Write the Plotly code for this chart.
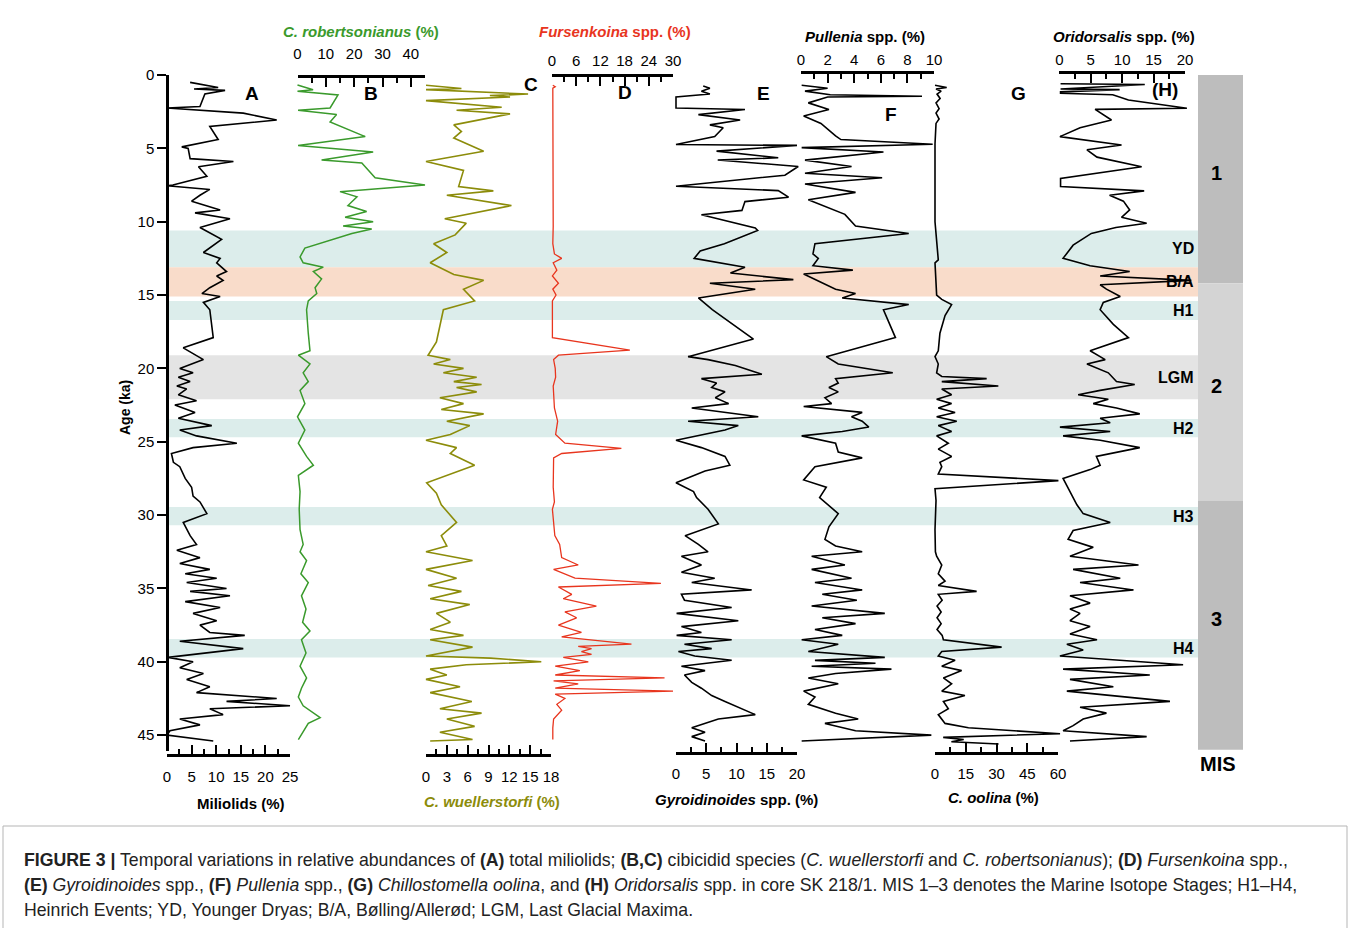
import plotly.graph_objects as go

# ---------------- data: (age in ka, relative abundance in %) ----------------
miliolids = [
    (0.5, 4.7), (0.85, 10.4), (0.95, 5.5), (1.05, 11.8), (1.3, 7.7), (2.15, 6.7), (2.25, 0),
    (2.6, 15.5), (3.07, 22.3), (3.5, 8.7), (4.4, 10.4), (4.9, 3.0), (5.0, 4.3), (5.7, 4.7),
    (5.9, 13.5), (6.25, 6.4), (6.9, 8.1), (7.5, 1.2), (7.55, 0), (7.8, 8.7), (8.2, 6.7),
    (8.6, 5.0), (9.2, 10.8), (9.4, 5.7), (9.8, 12.8), (10.4, 6.7), (11.2, 11.1), (12.1, 7.4),
    (12.5, 10.8), (12.8, 10.1), (13.4, 12.1), (13.7, 10.1), (14.0, 11.4), (14.5, 8.7),
    (14.9, 7.1), (15.1, 10.8), (15.5, 7.4), (16.0, 8.7), (17.9, 9.4), (18.6, 3.3), (19.4, 7.4),
    (20.0, 2.6), (20.3, 5.3), (20.6, 2.3), (20.9, 4.7), (21.2, 2.0), (21.4, 4.0), (21.8, 2.3),
    (22.2, 6.0), (22.5, 1.6), (23.0, 5.7), (23.4, 2.3), (23.9, 9.1), (24.2, 2.6), (24.6, 6.0),
    (25.1, 14.2), (25.4, 5.3), (25.8, 0.9), (26.4, 1.3), (26.7, 2.6), (27.5, 3.7), (28.1, 5.0),
    (28.7, 5.3), (29.1, 6.7), (29.9, 8.1), (30.5, 3.3), (31.4, 4.7), (32.0, 6.0), (32.4, 2.0),
    (32.9, 6.7), (33.3, 2.6), (33.7, 8.7), (34.0, 3.7), (34.3, 10.1), (34.6, 4.0), (35.0, 12.1),
    (35.2, 4.7), (35.5, 12.8), (35.9, 3.7), (36.3, 10.8), (36.7, 5.3), (37.2, 10.1), (37.5, 6.7),
    (38.0, 8.7), (38.2, 15.8), (38.6, 2.6), (39.1, 15.5), (39.4, 8.1), (39.7, 0.2), (40.0, 5.3),
    (40.4, 2.6), (40.8, 7.4), (41.2, 4.0), (41.7, 8.7), (42.1, 6.0), (42.5, 22.3), (42.7, 12.1),
    (43.0, 25.0), (43.2, 8.7), (43.6, 11.4), (43.9, 2.6), (44.3, 6.7), (44.7, 0.6), (45.0, 0.0),
    (45.4, 9.4),
]

c_robertsonianus = [
    (0.68, 0), (1.0, 5.5), (1.1, 0), (1.36, 14.3), (2.25, 11.5), (2.4, 0.2), (2.7, 13.8),
    (3.2, 11.5), (4.2, 23.9), (4.8, 0.2), (5.25, 26.7), (5.8, 8.5), (6.0, 22.7), (7.0, 27.4),
    (7.5, 45), (7.95, 15), (8.3, 21), (8.9, 17.8), (9.3, 24.4), (9.7, 16.8), (10.0, 26.7),
    (10.3, 16.1), (10.5, 26.2), (10.8, 19.2), (11.8, 2.6), (12.4, 0.9), (12.8, 2.0), (13.1, 9.1),
    (13.4, 5.6), (13.9, 8.5), (14.5, 6.2), (14.9, 6.8), (15.4, 3.8), (16.0, 3.2), (17.6, 3.8),
    (18.8, 4.4), (19.1, 0.3), (19.7, 4.4), (20.3, 2.0), (20.9, 3.8), (21.5, 0.9), (22.4, 2.6),
    (23.3, 0), (24.2, 2.6), (25.1, 0.3), (26.0, 3.2), (26.6, 5.6), (27.3, 0.3), (28.4, 0.9),
    (29.6, 0.6), (31.0, 0.9), (32.0, 2.0), (32.5, 0.9), (33.1, 3.2), (34.0, 1.2), (34.6, 3.8),
    (35.5, 1.4), (36.4, 3.0), (37.3, 1.8), (37.9, 4.4), (38.5, 1.4), (39.4, 3.0), (40.3, 0.9),
    (41.1, 3.2), (41.8, 1.4), (42.4, 0.3), (43.0, 2.0), (43.8, 8.0), (44.2, 3.8), (44.8, 2.0),
    (45.3, 0.3),
]

c_wuellerstorfi = [
    (0.7, 0), (0.92, 5.1), (1.0, 0), (1.3, 14.7), (1.4, 9.2), (1.5, 12.1), (1.75, 0),
    (2.2, 10.9), (2.4, 4.4), (2.65, 12.1), (3.4, 4.0), (3.85, 5.1), (4.3, 4.0), (5.2, 8.3),
    (5.9, 0), (6.5, 5.4), (7.6, 4.7), (7.9, 9.7), (8.2, 3.0), (8.9, 12.3), (9.8, 2.7),
    (10.1, 5.8), (10.9, 4.2), (11.5, 1.1), (12.1, 3.0), (12.8, 0.6), (13.6, 4.0), (14.0, 8.3),
    (14.6, 5.4), (15.4, 7.0), (16.0, 2.5), (18.2, 1.5), (19.1, 0.3), (19.4, 3.5), (19.7, 1.1),
    (20.0, 5.4), (20.3, 2.5), (20.6, 7.3), (20.9, 4.0), (21.1, 8.0), (21.3, 4.4), (21.6, 7.3),
    (22.0, 2.0), (22.4, 5.4), (22.8, 2.2), (23.1, 8.3), (23.6, 3.0), (23.9, 6.3), (24.5, 3.5),
    (24.9, 0), (25.4, 4.4), (25.8, 3.5), (26.6, 7.0), (27.8, 0.1), (28.5, 1.5), (29.3, 2.2),
    (30.5, 4.4), (31.4, 2.2), (32.1, 3.0), (32.5, 0), (33.1, 6.7), (33.7, 0), (34.3, 4.4),
    (34.8, 0.3), (35.2, 5.1), (35.7, 0.6), (36.1, 6.3), (36.7, 1.5), (37.3, 3.5), (37.8, 0.6),
    (38.2, 5.4), (38.5, 0.6), (39.0, 6.7), (39.6, 0), (39.75, 9.3), (40.0, 16.6), (40.2, 5.8),
    (40.5, 0.6), (40.9, 3.0), (41.2, 0), (41.7, 4.9), (42.1, 0.6), (42.7, 6.6), (43.2, 2.0),
    (43.5, 8.0), (43.9, 3.0), (44.4, 7.0), (44.8, 2.0), (45.3, 6.7), (45.4, 0.6),
]

fursenkoina = [
    (0.7, 0.2), (0.8, 0.8), (0.9, 0.2), (5.0, 0.3), (10.3, 0.3), (11.5, 0.2), (12.2, 0.6),
    (12.5, 2.4), (12.8, 0.3), (13.3, 1.2), (13.7, 0.1), (14.2, 1.6), (14.6, 0.2), (15.0, 1.0),
    (15.4, 0.1), (17.9, 0.1), (18.3, 9.0), (18.75, 19.3), (19.1, 1.6), (19.4, 0.4), (20.0, 0.8),
    (20.6, 0.9), (21.2, 0.3), (22.0, 0.5), (22.7, 0.6), (23.6, 1.4), (24.5, 0.9), (25.1, 3.2),
    (25.45, 17.2), (25.8, 2.4), (26.1, 0.4), (28.1, 0.3), (29.1, 0.6), (29.6, 0.1), (30.5, 0.4),
    (31.4, 0.7), (32.0, 1.9), (32.9, 2.4), (33.4, 6.5), (33.7, 0.4), (34.3, 5.7), (34.65, 27.0),
    (34.9, 1.6), (35.4, 4.9), (35.7, 2.8), (36.2, 11.0), (36.6, 3.2), (37.0, 6.1), (37.5, 1.6),
    (38.0, 7.3), (38.3, 2.4), (38.8, 19.7), (38.95, 6.5), (39.1, 9.8), (39.3, 7.3), (39.5, 9.8),
    (39.7, 2.8), (40.0, 9.0), (40.3, 0.8), (40.6, 6.9), (40.9, 0.8), (41.1, 27.9), (41.3, 0.4),
    (41.5, 6.5), (41.8, 0.8), (42.0, 30.0), (42.2, 0.8), (42.5, 3.2), (42.9, 1.2), (43.3, 2.4),
    (43.9, 0.4), (44.5, 0.2), (45.3, 0.2),
]

gyroidinoides = [
    (0.75, 4.5), (0.9, 5.6), (1.1, 4.2), (1.3, 5.6), (1.5, 0), (2.25, 0), (2.35, 11.4),
    (2.7, 3.7), (3.07, 10.6), (3.4, 5.6), (3.6, 7.8), (4.2, 6.4), (4.74, 0), (4.8, 20),
    (5.19, 6.7), (5.64, 16.9), (5.79, 6.9), (6.24, 20.2), (6.83, 18.0), (7.58, 0), (7.88, 16.9),
    (8.33, 18.6), (8.63, 11.4), (9.23, 10.9), (9.53, 4.2), (9.97, 8.4), (10.42, 13.1),
    (10.6, 13.5), (11.5, 8.0), (12.0, 4.0), (12.5, 3.0), (13.1, 11.4), (13.5, 9.0),
    (13.95, 19.4), (14.2, 5.6), (14.6, 13.1), (15.2, 3.7), (16.0, 6.0), (18.0, 12.8),
    (19.2, 2.0), (19.4, 5.3), (19.8, 9.8), (20.4, 14.2), (20.7, 4.2), (21.0, 6.7), (21.3, 5.9),
    (21.6, 8.1), (22.0, 6.5), (22.4, 8.7), (22.7, 2.6), (23.0, 8.1), (23.3, 13.6), (23.6, 2.0),
    (23.9, 10.3), (24.2, 8.1), (24.6, 3.7), (24.9, 0), (25.4, 4.2), (26.0, 8.1), (26.6, 8.9),
    (27.0, 4.8), (27.8, 0), (28.4, 2.9), (28.8, 3.4), (29.6, 5.3), (30.6, 7.0), (31.4, 1.5),
    (32.0, 3.7), (32.5, 5.3), (32.8, 0.9), (33.4, 4.2), (33.9, 0.9), (34.3, 6.4), (34.6, 2.6),
    (35.1, 12.5), (35.4, 0.9), (35.8, 1.4), (36.3, 9.2), (36.7, 0.1), (37.2, 10.3), (37.6, 0.9),
    (38.0, 4.2), (38.2, 0.1), (38.5, 9.2), (38.8, 1.4), (39.1, 5.9), (39.3, 0.4), (39.6, 3.1),
    (39.9, 9.2), (40.3, 0.9), (40.6, 4.8), (40.9, 1.4), (41.4, 2.6), (41.8, 4.2), (42.3, 5.9),
    (42.7, 8.1), (43.2, 10.9), (43.6, 13.1), (43.9, 7.0), (44.2, 4.8), (44.5, 2.6), (44.8, 4.8),
    (45.1, 2.6), (45.4, 4.8),
]

pullenia = [
    (0.7, 0.05), (0.9, 2.0), (1.1, 0.3), (1.35, 2.2), (1.45, 9.1), (1.5, 2.0), (1.9, 0.55),
    (2.35, 2.1), (2.8, 0.2), (3.3, 1.5), (4.15, 2.6), (4.4, 3.0), (4.72, 9.9), (4.95, 0.05),
    (5.25, 6.2), (5.8, 0.3), (6.24, 3.8), (6.7, 0.3), (7.0, 6.1), (7.43, 0.3), (8.0, 4.1),
    (8.5, 0.55), (9.5, 3.3), (10.3, 4.1), (10.8, 8.1), (11.5, 1.05), (12.2, 0.9), (12.5, 1.3),
    (13.0, 0.9), (13.3, 3.9), (13.56, 0.2), (14.2, 1.6), (14.6, 2.6), (14.9, 4.1), (15.2, 3.1),
    (15.65, 8.1), (16.0, 6.2), (17.9, 7.1), (19.2, 1.9), (19.7, 2.8), (20.3, 6.9), (20.7, 2.6),
    (21.0, 2.8), (21.3, 2.1), (21.6, 2.8), (22.0, 1.8), (22.4, 2.3), (22.6, 0.2), (23.0, 4.6),
    (23.3, 3.8), (23.6, 4.6), (24.0, 5.1), (24.3, 3.1), (24.6, 0.05), (25.1, 2.6), (25.7, 2.8),
    (26.1, 4.6), (26.7, 1.05), (27.6, 0.2), (28.1, 1.9), (28.8, 1.4), (29.9, 2.8), (30.8, 2.1),
    (31.65, 1.8), (32.1, 2.6), (32.5, 4.6), (32.8, 0.8), (33.4, 3.3), (33.7, 0.8), (34.3, 3.8),
    (34.6, 1.05), (35.1, 4.6), (35.4, 1.6), (35.8, 4.2), (36.2, 0.8), (36.7, 6.3), (37.0, 1.6),
    (37.4, 4.1), (37.8, 1.05), (38.2, 3.1), (38.5, 0.05), (38.8, 2.8), (39.3, 0.55), (39.7, 6.3),
    (39.9, 1.05), (40.1, 5.6), (40.3, 0.8), (40.5, 6.8), (40.8, 2.6), (41.1, 0.55), (41.5, 2.8),
    (42.0, 0.2), (42.4, 1.05), (42.9, 0.55), (43.5, 2.6), (43.9, 4.3), (44.2, 1.8), (44.7, 4.1),
    (45.0, 9.8), (45.4, 0.05),
]

c_oolina = [
    (0.7, 0), (0.85, 5.7), (0.95, 0.5), (1.1, 3.0), (1.3, 1.0), (1.6, 2.5), (1.9, 0.5),
    (2.3, 2.0), (2.6, 0.5), (3.0, 2.0), (3.3, 0.5), (4.7, 0), (10.0, 0), (12.6, 1.6), (12.8, 0),
    (15.0, 0.8), (15.3, 3.3), (15.65, 8.1), (16.4, 4.9), (17.6, 2.4), (18.8, 1.6), (19.2, 0),
    (19.7, 1.6), (20.3, 0.8), (20.55, 3.3), (20.7, 25.2), (20.9, 3.3), (21.2, 30.9), (21.4, 3.3),
    (21.8, 8.1), (22.1, 0.8), (22.4, 8.1), (22.7, 1.6), (23.0, 9.8), (23.3, 0.8), (23.6, 10.6),
    (23.9, 1.6), (24.3, 8.1), (24.6, 0.8), (25.1, 6.5), (25.5, 1.6), (26.0, 8.1), (26.4, 2.4),
    (26.7, 3.3), (27.2, 1.6), (27.65, 60.2), (28.2, 0), (29.0, 0.5), (31.0, 0), (32.5, 0.2),
    (32.8, 0.8), (33.4, 3.3), (34.0, 1.6), (34.5, 4.9), (34.8, 1.6), (35.2, 20.3), (35.4, 1.6),
    (35.8, 3.5), (36.2, 1.0), (36.6, 3.0), (37.0, 1.0), (37.4, 3.0), (37.8, 1.0), (38.2, 3.5),
    (38.5, 4.1), (39.0, 32.5), (39.3, 3.3), (39.6, 1.6), (39.9, 9.8), (40.3, 3.3), (40.6, 13.0),
    (41.1, 4.1), (41.5, 8.1), (42.0, 3.3), (42.3, 14.6), (42.7, 4.1), (43.2, 6.5), (43.6, 1.6),
    (44.2, 4.9), (44.5, 16.3), (44.9, 61.0), (45.15, 4.0), (45.3, 14.0), (45.45, 8.0),
    (45.6, 31.0),
]

oridorsalis = [
    (0.6, 0.2), (0.65, 13.6), (0.95, 0.2), (1.0, 9.6), (1.15, 0.2), (1.25, 0.2), (1.35, 8.5),
    (1.7, 11.0), (2.27, 20.3), (2.34, 5.7), (3.07, 8.3), (3.6, 3.3), (4.2, 0.1), (4.77, 9.9),
    (5.1, 4.4), (5.6, 6.0), (6.25, 13.1), (7.05, 0.2), (7.6, 0.2), (7.9, 13.5), (8.2, 8.0),
    (8.6, 10.2), (9.2, 11.2), (9.7, 9.9), (10.1, 13.9), (10.4, 9.0), (10.8, 5.1), (11.6, 2.2),
    (12.5, 0.6), (13.0, 4.9), (13.4, 11.2), (13.7, 6.5), (14.0, 21.0), (14.3, 6.5), (14.6, 7.5),
    (15.1, 9.7), (15.5, 7.0), (16.0, 6.5), (17.0, 8.6), (17.9, 11.0), (18.8, 4.9), (19.4, 7.3),
    (19.7, 4.4), (20.3, 7.8), (20.9, 9.1), (21.1, 12.0), (21.5, 6.5), (21.8, 3.0), (22.1, 7.8),
    (22.4, 5.4), (22.7, 9.1), (23.1, 12.8), (23.4, 6.5), (23.7, 8.1), (24.0, 0.1), (24.3, 8.1),
    (24.6, 0.6), (24.9, 6.5), (25.4, 12.8), (26.0, 5.9), (26.6, 6.5), (26.9, 4.9), (27.5, 0.6),
    (28.4, 1.7), (29.3, 2.8), (29.9, 3.8), (30.5, 8.1), (31.05, 2.2), (31.65, 1.4), (32.2, 5.4),
    (32.8, 1.7), (33.4, 12.6), (33.7, 2.2), (34.3, 9.7), (34.6, 3.3), (35.1, 11.8), (35.5, 1.7),
    (36.0, 4.9), (36.4, 1.7), (36.7, 3.3), (37.2, 1.7), (37.6, 4.9), (38.1, 1.7), (38.5, 6.0),
    (38.8, 1.2), (39.2, 3.8), (39.6, 0.1), (40.2, 19.7), (40.5, 0.6), (40.9, 14.4), (41.2, 1.7),
    (41.7, 8.6), (42.0, 1.2), (42.7, 17.6), (43.1, 3.3), (43.5, 7.5), (43.9, 3.8), (44.35, 2.2),
    (44.7, 0.6), (45.1, 13.9), (45.4, 1.7),
]

# climate events (ka)
event_names = ["YD", "B/A", "H1", "LGM", "H2", "H3", "H4"]
event_top = [10.6, 13.1, 15.4, 19.1, 23.45, 29.45, 38.45]
event_base = [13.1, 15.1, 16.7, 22.1, 24.7, 30.7, 39.7]
event_fill = ["#dcedeb", "#f9dcca", "#dcedeb", "#e4e4e4", "#dcedeb", "#dcedeb", "#dcedeb"]

# marine isotope stages (ka)
mis_names = ["1", "2", "3"]
mis_top = [0.0, 14.2, 29.0]
mis_base = [14.2, 29.0, 46.0]
mis_fill = ["#bdbdbd", "#d4d4d4", "#bdbdbd"]

age_ticks = [0, 5, 10, 15, 20, 25, 30, 35, 40, 45]

# ---------------- page geometry (pixels) ----------------
W, H = 1360, 928
FONT = "Liberation Sans, Arial, Helvetica, sans-serif"


def px(x):
    return x / W


def py(y):
    return 1 - y / H


AGE_TOP_PX, AGE_BOT_PX = 75, 751
AGE_MAX = (AGE_BOT_PX - AGE_TOP_PX) / 14.67

GREEN = "#3a9a2c"
OLIVE = "#8c8c0a"
RED = "#e8351e"

panels = [
    dict(data=miliolids, color="black", x0=167, x1=290, vmax=25, side="bottom", pos=755,
         major=[0, 5, 10, 15, 20, 25], minor=2.5, lw=1.6, standoff=7),
    dict(data=c_robertsonianus, color=GREEN, x0=297.5, x1=425, vmax=45, side="top", pos=76,
         major=[0, 10, 20, 30, 40, 45], labels=["0", "10", "20", "30", "40", ""], minor=5,
         lw=1.5, standoff=10),
    dict(data=c_wuellerstorfi, color=OLIVE, x0=426, x1=551, vmax=18, side="bottom", pos=755,
         major=[0, 3, 6, 9, 12, 15, 18], minor=1.5, lw=1.6, standoff=7),
    dict(data=fursenkoina, color=RED, x0=552, x1=673, vmax=30, side="top", pos=75,
         major=[0, 6, 12, 18, 24, 30], minor=3, lw=1.3, standoff=2),
    dict(data=gyroidinoides, color="black", x0=676, x1=797, vmax=20, side="bottom", pos=753,
         major=[0, 5, 10, 15, 20], minor=2.5, lw=1.6, standoff=6),
    dict(data=pullenia, color="black", x0=801, x1=934, vmax=10, side="top", pos=72,
         major=[0, 2, 4, 6, 8, 10], minor=1, lw=1.6, standoff=0),
    dict(data=c_oolina, color="black", x0=935, x1=1058, vmax=60, side="bottom", pos=753,
         major=[0, 15, 30, 45, 60], minor=7.5, lw=1.6, standoff=6),
    dict(data=oridorsalis, color="black", x0=1059.3, x1=1185, vmax=20, side="top", pos=72,
         major=[0, 5, 10, 15, 20], minor=2.5, lw=1.6, standoff=0),
]

fig = go.Figure()
layout_axes = {}
n = len(panels)

for i, p in enumerate(panels):
    disp = i + 1          # visible scale axis
    dat = i + 1 + n       # hidden axis carrying the curve (same scale, wider so peaks are not clipped)
    w = p["x1"] - p["x0"]
    scale = w / p["vmax"]
    pad = 6
    ext = 1.35 * w

    layout_axes[f"xaxis{'' if disp == 1 else disp}"] = dict(
        domain=[px(p["x0"]), px(p["x1"])], range=[0, p["vmax"]], anchor="free",
        position=py(p["pos"]), side=p["side"], showline=True, linecolor="black", linewidth=2.5,
        ticks="inside", ticklen=9, tickwidth=2, tickcolor="black",
        tickmode="array", tickvals=p["major"],
        ticktext=p.get("labels", [str(v) for v in p["major"]]),
        minor=dict(ticks="inside", ticklen=5, tickwidth=2, tickcolor="black",
                   tickmode="linear", tick0=0, dtick=p["minor"], showgrid=False),
        showgrid=False, zeroline=False, fixedrange=True, automargin=False,
        tickfont=dict(family=FONT, size=15, color="black"), ticklabelstandoff=p["standoff"],
    )
    layout_axes[f"xaxis{dat}"] = dict(
        domain=[px(p["x0"] - pad), px(p["x0"] + ext)],
        range=[-pad / scale, ext / scale], anchor="y", visible=False, fixedrange=True,
        automargin=False,
    )

    fig.add_trace(go.Scatter(x=[None], y=[None], xaxis=f"x{disp}", yaxis="y",
                             showlegend=False, hoverinfo="skip"))
    ages = [a for a, _ in p["data"]]
    vals = [v for _, v in p["data"]]
    fig.add_trace(go.Scatter(x=vals, y=ages, mode="lines", xaxis=f"x{dat}", yaxis="y",
                             line=dict(color=p["color"], width=p["lw"]),
                             showlegend=False, hoverinfo="skip"))

shapes = []
band_left, band_right = 167, 1198
for top, base, fill in zip(event_top, event_base, event_fill):
    shapes.append(dict(type="rect", xref="paper", yref="y", x0=px(band_left), x1=px(band_right),
                       y0=top, y1=base, fillcolor=fill, line=dict(width=0), layer="below"))
for top, base, fill in zip(mis_top, mis_base, mis_fill):
    shapes.append(dict(type="rect", xref="paper", yref="y", x0=px(1198), x1=px(1243),
                       y0=top, y1=base, fillcolor=fill, line=dict(width=0), layer="below"))
# caption frame
shapes.append(dict(type="rect", xref="paper", yref="paper", x0=px(3), x1=px(1347),
                   y0=py(960), y1=py(826), line=dict(color="#b5b5b5", width=1),
                   fillcolor="rgba(0,0,0,0)"))

ann = []


def label(text, x, y, size=15, color="black", xanchor="center", yanchor="middle", angle=0,
          yref="paper"):
    ann.append(dict(text=text, x=px(x), y=(py(y) if yref == "paper" else y), xref="paper",
                    yref=yref, showarrow=False, xanchor=xanchor, yanchor=yanchor,
                    textangle=angle, font=dict(family=FONT, size=size, color=color)))


# panel letters
for t, x, y in [("A", 252, 94), ("B", 371, 94), ("C", 531, 85), ("D", 625, 92), ("E", 763, 93),
                ("F", 891, 115), ("G", 1018, 94), ("(H)", 1165, 90)]:
    label(f"<b>{t}</b>", x, y, size=19)

# event labels
for name, top, base in zip(event_names, event_top, event_base):
    label(f"<b>{name}</b>", 1196, (top + base) / 2, size=16, xanchor="right", yref="y")

# MIS labels
for name, top, base in zip(mis_names, mis_top, mis_base):
    label(f"<b>{name}</b>", 1216, (top + base) / 2 - 0.4, size=20, yref="y")
label("<b>MIS</b>", 1218, 764, size=20)

# scale titles
label("<b><i>C. robertsonianus</i> (%)</b>", 361, 31, size=15, color=GREEN)
label("<b><i>Fursenkoina</i> spp. (%)</b>", 615, 31, size=15, color=RED)
label("<b><i>Pullenia</i> spp. (%)</b>", 865, 36, size=15)
label("<b><i>Oridorsalis</i> spp. (%)</b>", 1124, 36, size=15)
label("<b>Miliolids (%)</b>", 241, 803, size=15)
label("<b><i>C. wuellerstorfi</i> (%)</b>", 492, 801, size=15, color=OLIVE)
label("<b><i>Gyroidinoides</i> spp. (%)</b>", 736, 799, size=15)
label("<b><i>C. oolina</i> (%)</b>", 994, 797, size=15)
label("<b>Age (ka)</b>", 125, 408, size=14, angle=-90)

# caption
cap = [
    "<b>FIGURE 3 |</b> Temporal variations in relative abundances of <b>(A)</b> total miliolids; "
    "<b>(B,C)</b> cibicidid species (<i>C. wuellerstorfi</i> and <i>C. robertsonianus</i>); "
    "<b>(D)</b> <i>Fursenkoina</i> spp.,",
    "<b>(E)</b> <i>Gyroidinoides</i> spp., <b>(F)</b> <i>Pullenia</i> spp., <b>(G)</b> "
    "<i>Chillostomella oolina</i>, and <b>(H)</b> <i>Oridorsalis</i> spp. in core SK 218/1. "
    "MIS 1–3 denotes the Marine Isotope Stages; H1–H4,",
    "Heinrich Events; YD, Younger Dryas; B/A, Bølling/Allerød; LGM, Last Glacial Maxima.",
]
for k, line in enumerate(cap):
    label(line, 22, 860 + 25 * k, size=17.7, color="#222222", xanchor="left")

fig.update_layout(
    width=W, height=H, autosize=False,
    margin=dict(l=0, r=0, t=0, b=0, pad=0, autoexpand=False),
    paper_bgcolor="white", plot_bgcolor="rgba(0,0,0,0)",
    font=dict(family=FONT, size=15, color="black"),
    showlegend=False,
    yaxis=dict(domain=[py(AGE_BOT_PX), py(AGE_TOP_PX)], range=[AGE_MAX, 0], anchor="free",
               position=px(167), showline=True, linecolor="black", linewidth=2.5,
               ticks="outside", ticklen=9, tickwidth=2, tickcolor="black",
               tickmode="array", tickvals=age_ticks, showgrid=False, zeroline=False,
               fixedrange=True, automargin=False,
               tickfont=dict(family=FONT, size=15, color="black")),
    shapes=shapes, annotations=ann,
    **layout_axes,
)

fig.write_html("out.html")
